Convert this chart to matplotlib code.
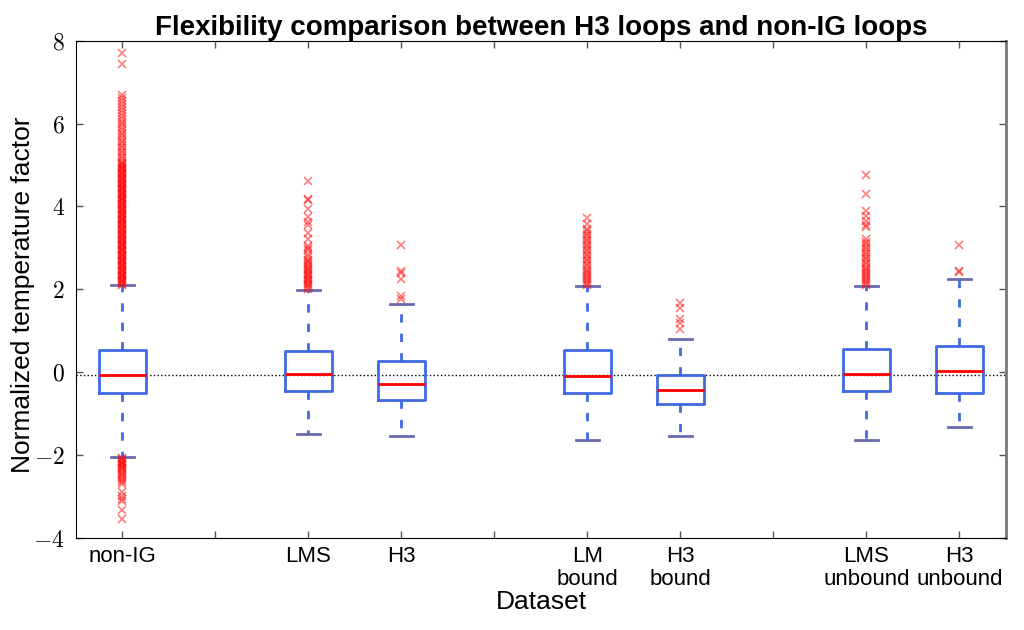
import numpy as np
import matplotlib
matplotlib.use("Agg")
import matplotlib.pyplot as plt
from matplotlib.ticker import FuncFormatter

plt.rcParams["mathtext.fontset"] = "cm"
plt.rcParams["font.family"] = ["Liberation Sans", "DejaVu Sans"]

# ── Data ──────────────────────────────────────────────────────────────────────
positions = [1, 3, 4, 6, 7, 9, 10]
tick_labels = ["non-IG", "", "LMS", "H3", "", "LM\nbound", "H3\nbound", "",
               "LMS\nunbound", "H3\nunbound"]

medians = [-0.07, -0.04, -0.29, -0.10, -0.44, -0.04, 0.04]
q1s     = [-0.50, -0.45, -0.68, -0.50, -0.76, -0.45, -0.51]
q3s     = [0.54, 0.52, 0.27, 0.54, -0.07, 0.56, 0.63]
whislo  = [-2.05, -1.49, -1.54, -1.64, -1.54, -1.64, -1.33]
whishi  = [2.10, 1.99, 1.65, 2.07, 0.81, 2.09, 2.24]

fliers_nonig = [
    7.71, 7.44, 6.70, 6.62, 6.55, 6.48, 6.40, 6.33, 6.25, 6.18, 6.12, 6.05,
    5.98, 5.92, 5.85, 5.78, 5.72, 5.65, 5.58, 5.52, 5.46, 5.40, 5.34, 5.28,
    5.22, 5.16, 5.10, 5.05, 5.02, 4.99, 4.96, 4.93, 4.90, 4.87, 4.84, 4.81,
    4.78, 4.75, 4.72, 4.69, 4.66, 4.63, 4.60, 4.57, 4.54, 4.51, 4.48, 4.45,
    4.42, 4.39, 4.36, 4.33, 4.30, 4.27, 4.24, 4.21, 4.18, 4.15, 4.12, 4.09,
    4.06, 4.03, 4.00, 3.97, 3.94, 3.91, 3.88, 3.85, 3.82, 3.79, 3.76, 3.73,
    3.70, 3.67, 3.64, 3.61, 3.58, 3.55, 3.52, 3.49, 3.46, 3.43, 3.40, 3.37,
    3.34, 3.31, 3.28, 3.25, 3.22, 3.19, 3.16, 3.13, 3.10, 3.07, 3.04, 3.01,
    2.98, 2.95, 2.92, 2.89, 2.86, 2.83, 2.80, 2.77, 2.74, 2.71, 2.68, 2.65,
    2.62, 2.59, 2.56, 2.53, 2.50, 2.47, 2.44, 2.41, 2.38, 2.35, 2.32, 2.29,
    2.26, 2.23, 2.20, 2.17, 2.14, 2.11,
    -2.07, -2.10, -2.13, -2.16, -2.19, -2.22, -2.25, -2.28, -2.31, -2.34,
    -2.38, -2.42, -2.46, -2.50, -2.55, -2.60, -2.65, -2.70, -2.90, -2.98,
    -3.05, -3.10, -3.32, -3.55,
]
fliers_lms = [
    4.61, 4.19, 4.15, 3.95, 3.75, 3.62, 3.55, 3.35, 3.22, 3.05, 3.01, 2.96,
    2.85, 2.78, 2.72, 2.68, 2.63, 2.58, 2.54, 2.50, 2.46, 2.42, 2.38, 2.34,
    2.30, 2.26, 2.22, 2.18, 2.14, 2.10, 2.06, 2.02,
]
fliers_h3 = [3.08, 2.44, 2.40, 2.24, 1.84, 1.77]
fliers_lm_bound = [
    3.73, 3.58, 3.46, 3.40, 3.34, 3.28, 3.22, 3.16, 3.10, 3.04, 2.98, 2.92,
    2.86, 2.80, 2.74, 2.68, 2.62, 2.56, 2.50, 2.45, 2.40, 2.35, 2.30, 2.25,
    2.20, 2.15, 2.10,
]
fliers_h3_bound = [1.66, 1.55, 1.28, 1.18, 1.05]
fliers_lms_unbound = [
    4.76, 4.29, 3.89, 3.76, 3.66, 3.56, 3.50, 3.21, 3.15, 3.09, 3.03, 2.97,
    2.91, 2.85, 2.79, 2.73, 2.67, 2.61, 2.55, 2.50, 2.45, 2.40, 2.35, 2.30,
    2.25, 2.20, 2.15, 2.11,
]
fliers_h3_unbound = [3.08, 2.45, 2.42]

fliers = [fliers_nonig, fliers_lms, fliers_h3, fliers_lm_bound,
          fliers_h3_bound, fliers_lms_unbound, fliers_h3_unbound]

# ── Plot ──────────────────────────────────────────────────────────────────────
stats = []
for i in range(len(positions)):
    stats.append({"med": medians[i], "q1": q1s[i], "q3": q3s[i],
                  "whislo": whislo[i], "whishi": whishi[i],
                  "fliers": fliers[i]})

fig = plt.figure(figsize=(10.24, 6.3), dpi=100)
ax = fig.add_axes([0.0742, 0.146, 0.9082, 0.7894])

box_col = "#4169E1"
ax.axhline(medians[0], color="black", linestyle=":", linewidth=1, zorder=1)
ax.bxp(stats, positions=positions, widths=0.5, showfliers=True,
       boxprops=dict(color=box_col, linewidth=2),
       whiskerprops=dict(color=box_col, linewidth=2, linestyle=(0, (3, 4))),
       capprops=dict(color="#6A6AB0", linewidth=2),
       medianprops=dict(color="red", linewidth=2),
       flierprops=dict(marker="x", markeredgecolor="red", alpha=0.5,
                       markersize=6, markeredgewidth=1.2, linestyle="none"),
       manage_ticks=False, zorder=2)

ax.set_xlim(0.5, 10.5)
ax.set_ylim(-4, 8)
ax.set_xticks(range(1, 11))
ax.set_xticklabels(tick_labels, fontsize=16, linespacing=1.1)
ax.set_yticks(range(-4, 9, 2))
ax.yaxis.set_major_formatter(FuncFormatter(lambda v, p: f"${int(v)}$"))
ax.tick_params(axis="y", labelsize=17, pad=8)
ax.tick_params(direction="in", length=5, top=True, right=True,
               color="#555555", width=1)
ax.tick_params(axis="x", pad=6)

ax.spines["right"].set_color("#777777")
ax.spines["right"].set_linewidth(2)

ax.set_title("Flexibility comparison between H3 loops and non-IG loops",
             fontsize=20, fontweight="bold", pad=4)
ax.set_xlabel("Dataset", fontsize=19)
ax.set_ylabel("Normalized temperature factor", fontsize=19)
ax.xaxis.set_label_coords(0.5, -0.104)
ax.yaxis.set_label_coords(-0.044, 0.49)

fig.savefig("out.png", dpi=100)
